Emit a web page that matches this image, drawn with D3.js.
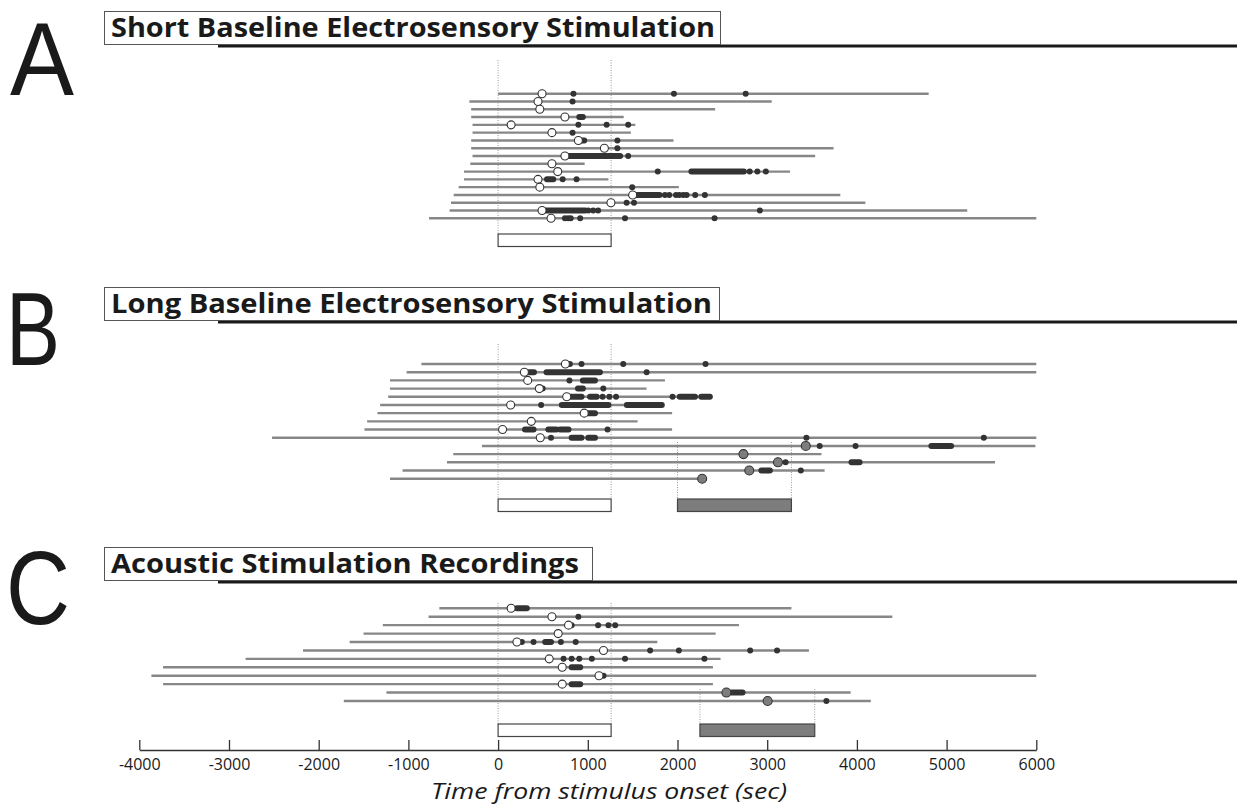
<!DOCTYPE html>
<html>
<head>
<meta charset="utf-8">
<script src="https://cdn.jsdelivr.net/npm/d3@7"></script>
<style>
  body { margin: 0; background: #fff; }
  svg { display: block; }
</style>
</head>
<body>
<svg width="1243" height="805"></svg>
<script>
// panel titles / letters
const panelLetters = ["A", "B", "C"]
const panelTitles = [
    "Short Baseline Electrosensory Stimulation",
    "Long Baseline Electrosensory Stimulation",
    "Acoustic Stimulation Recordings"
]
const axisTicks = [-4000, -3000, -2000, -1000, 0, 1000, 2000, 3000, 4000, 5000, 6000]
const axisTitle = "Time from stimulus onset (sec)"

// stimulus windows (sec): first = white box, second = grey box
const stimA = [[0, 1260]]
const stimB = [[0, 1260], [2000, 3270]]
const stimC = [[0, 1260], [2250, 3530]]

// Panel A rows
const aStart = [0, -320, -300, -300, -285, -285, -300, -300, -285, -310, -380, -380, -440, -495, -525, -540, -770]
const aEnd = [4800, 3050, 2420, 1400, 1530, 1480, 1955, 3740, 3535, 965, 3255, 1230, 2015, 3815, 4095, 5230, 6000]
const aOnset = [490, 445, 465, 745, 145, 600, 895, 1185, 745, 600, 665, 445, 465, 1500, 1258, 490, 590]
const aGrey = [0, 0, 0, 0, 0, 0, 0, 0, 0, 0, 0, 0, 0, 0, 0, 0, 0]
const aSpikes = [
    [840, 1960, 2760], [830], [], [], [895, 1210, 1450], [830], [1330], [1330], [1450], [],
    [1780, 2805, 2890, 2985], [720, 875], [1495],
    [1860, 1908, 1983, 2020, 2064, 2101, 2197, 2305], [1433, 1515],
    [1005, 1060, 1115, 2918], [745, 780, 810, 915, 1415, 2413]
]
const aBursts = [
    [], [], [], [[905, 945]], [], [], [[900, 960]], [], [[785, 1360]], [],
    [[2155, 2740]], [[545, 615]], [], [[1545, 1800]], [], [[520, 970]], []
]

// Panel B rows
const bStart = [-855, -1020, -1205, -1205, -1225, -1315, -1345, -1460, -1490, -2520, -180, -500, -570, -1065, -1205]
const bEnd = [6000, 6000, 1860, 1655, 2390, 1825, 1940, 1555, 1940, 6000, 5990, 3605, 5540, 3640, 2275]
const bOnset = [750, 293, 330, 460, 765, 140, 960, 370, 50, 470, 3430, 2735, 3120, 2800, 2275]
const bGrey = [0, 0, 0, 0, 0, 0, 0, 0, 0, 0, 1, 1, 1, 1, 1]
const bSpikes = [
    [800, 930, 1395, 2313], [1656], [795], [497, 1173], [1165, 1240, 1315, 1945],
    [480], [], [], [1220], [590, 3437, 5415], [3585, 3985], [], [3205], [3375], []
]
const bBursts = [
    [], [[340, 400], [540, 1135]], [[945, 1080]], [[890, 945]],
    [[800, 930], [1025, 1100], [2025, 2195], [2265, 2360]],
    [[710, 1230], [1435, 1825]], [[985, 1080]], [], [[300, 395], [560, 650], [690, 785]],
    [[820, 930], [1005, 1080]], [[4830, 5050]], [], [[3940, 4030]], [[2935, 3030]], []
]

// Panel C rows
const cStart = [-655, -775, -1285, -1500, -1655, -2175, -2815, -3735, -3865, -3735, -1245, -1720]
const cEnd = [3270, 4395, 2685, 2425, 1775, 3465, 2480, 2395, 6000, 2395, 3930, 4155]
const cOnset = [145, 600, 785, 670, 210, 1175, 570, 715, 1125, 715, 2545, 3005]
const cGrey = [0, 0, 0, 0, 0, 0, 0, 0, 0, 0, 1, 1]
const cSpikes = [
    [], [895], [820, 1115, 1230, 1305], [], [265, 395, 700, 865], [1695, 2015, 2810, 3110],
    [730, 820, 905, 1045, 1415, 2300], [], [1175], [], [], [3660]
]
const cBursts = [
    [[210, 320]], [], [], [], [[525, 590]], [], [], [[820, 915]], [], [[820, 915]], [[2600, 2725]], []
]

const svg = d3.select("svg")

const x = d3.scaleLinear()
    .domain([-4000, 6000])
    .range([139.3, 1036.3])

// layout of each panel (pixels)
const panels = [
    {start: aStart, end: aEnd, onset: aOnset, grey: aGrey, spikes: aSpikes, bursts: aBursts, stim: stimA,
     rowTop: 93.7, rowBot: 218.3, boxTop: 234, dotTop: 60, greyTop: 0, titleY: 11, titleW: 616, letterX: 10, letterY: 95},
    {start: bStart, end: bEnd, onset: bOnset, grey: bGrey, spikes: bSpikes, bursts: bBursts, stim: stimB,
     rowTop: 364, rowBot: 478.7, boxTop: 499, dotTop: 344, greyTop: 442, titleY: 287, titleW: 615, letterX: 6, letterY: 365},
    {start: cStart, end: cEnd, onset: cOnset, grey: cGrey, spikes: cSpikes, bursts: cBursts, stim: stimC,
     rowTop: 608.3, rowBot: 701, boxTop: 724, dotTop: 603, greyTop: 689, titleY: 547, titleW: 488, letterX: 6, letterY: 624}
]
const titleTextW = [604, 601, 468]

panels.forEach((p, pi) => {
    const g = svg.append("g")
    const rows = d3.range(p.start.length)
    const y = d3.scalePoint()
        .domain(rows)
        .range([p.rowTop, p.rowBot])

    // big letter
    g.append("text")
        .attr("x", p.letterX)
        .attr("y", p.letterY)
        .attr("font-family", "Liberation Sans")
        .attr("font-size", 103)
        .attr("fill", "#1a1a1a")
        .attr("textLength", pi == 1 ? 54 : 64)
        .attr("lengthAdjust", "spacingAndGlyphs")
        .text(panelLetters[pi])

    // title box + underline
    g.append("line")
        .attr("x1", 218).attr("x2", 1237)
        .attr("y1", p.titleY + 35).attr("y2", p.titleY + 35)
        .attr("stroke", "#1a1a1a").attr("stroke-width", 3)
    g.append("rect")
        .attr("x", 104.5).attr("y", p.titleY + 0.5)
        .attr("width", p.titleW).attr("height", 33)
        .attr("fill", "#fff").attr("stroke", "#555").attr("stroke-width", 1)
    g.append("text")
        .attr("x", 111)
        .attr("y", p.titleY + 26)
        .attr("font-family", "Open Sans")
        .attr("font-weight", "bold")
        .attr("font-size", 26)
        .attr("fill", "#1a1a1a")
        .attr("textLength", titleTextW[pi])
        .attr("lengthAdjust", "spacingAndGlyphs")
        .text(panelTitles[pi])

    // dotted guide lines for stimulus windows
    p.stim.forEach((s, si) => {
        s.forEach(v => {
            g.append("line")
                .attr("x1", x(v)).attr("x2", x(v))
                .attr("y1", si == 0 ? p.dotTop : p.greyTop).attr("y2", p.boxTop)
                .attr("stroke", "#999").attr("stroke-width", 1)
                .attr("stroke-dasharray", "1,1.5")
        })
        g.append("rect")
            .attr("x", x(s[0])).attr("y", p.boxTop)
            .attr("width", x(s[1]) - x(s[0])).attr("height", 12.5)
            .attr("fill", si == 0 ? "#fff" : "#7d7d7d")
            .attr("stroke", "#444").attr("stroke-width", 1.2)
    })

    // recording lines
    g.selectAll(".rec")
        .data(rows)
        .enter().append("line")
        .attr("x1", i => x(p.start[i]))
        .attr("x2", i => x(p.end[i]))
        .attr("y1", i => y(i)).attr("y2", i => y(i))
        .attr("stroke", "#878787").attr("stroke-width", 2.4)

    // bursts (dense spikes) and single spikes
    rows.forEach(i => {
        p.bursts[i].forEach(b => {
            g.append("line")
                .attr("x1", x(b[0])).attr("x2", x(b[1]))
                .attr("y1", y(i)).attr("y2", y(i))
                .attr("stroke", "#333").attr("stroke-width", 6)
                .attr("stroke-linecap", "round")
        })
        g.selectAll(null)
            .data(p.spikes[i])
            .enter().append("circle")
            .attr("cx", d => x(d))
            .attr("cy", y(i))
            .attr("r", 3)
            .attr("fill", "#333")
    })

    // onset circles
    g.selectAll(".onset")
        .data(rows)
        .enter().append("circle")
        .attr("cx", i => x(p.onset[i]))
        .attr("cy", i => y(i))
        .attr("r", i => p.grey[i] ? 4.5 : 4)
        .attr("fill", i => p.grey[i] ? "#7d7d7d" : "#fff")
        .attr("stroke", "#333").attr("stroke-width", 1.1)
})

// x axis
const axisY = 750
const axis = svg.append("g")
    .attr("transform", `translate(0,${axisY})`)
    .call(d3.axisBottom(x)
        .tickValues(axisTicks)
        .tickSizeInner(-10)
        .tickSizeOuter(0)
        .tickFormat(d3.format("d")))
axis.select(".domain").attr("stroke", "#333").attr("stroke-width", 1.3)
axis.selectAll(".tick line").attr("stroke", "#333").attr("stroke-width", 1.3)
axis.selectAll(".tick text")
    .attr("y", 9)
    .attr("font-family", "Open Sans")
    .attr("font-size", 16)
    .attr("fill", "#1a1a1a")
    .text(d => d < 0 ? "-" + Math.abs(d) : d)

svg.append("text")
    .attr("x", 609)
    .attr("y", 799)
    .attr("text-anchor", "middle")
    .attr("font-family", "Open Sans")
    .attr("font-style", "italic")
    .attr("font-size", 22)
    .attr("fill", "#1a1a1a")
    .attr("textLength", 356)
    .attr("lengthAdjust", "spacingAndGlyphs")
    .text(axisTitle)
</script>
</body>
</html>
